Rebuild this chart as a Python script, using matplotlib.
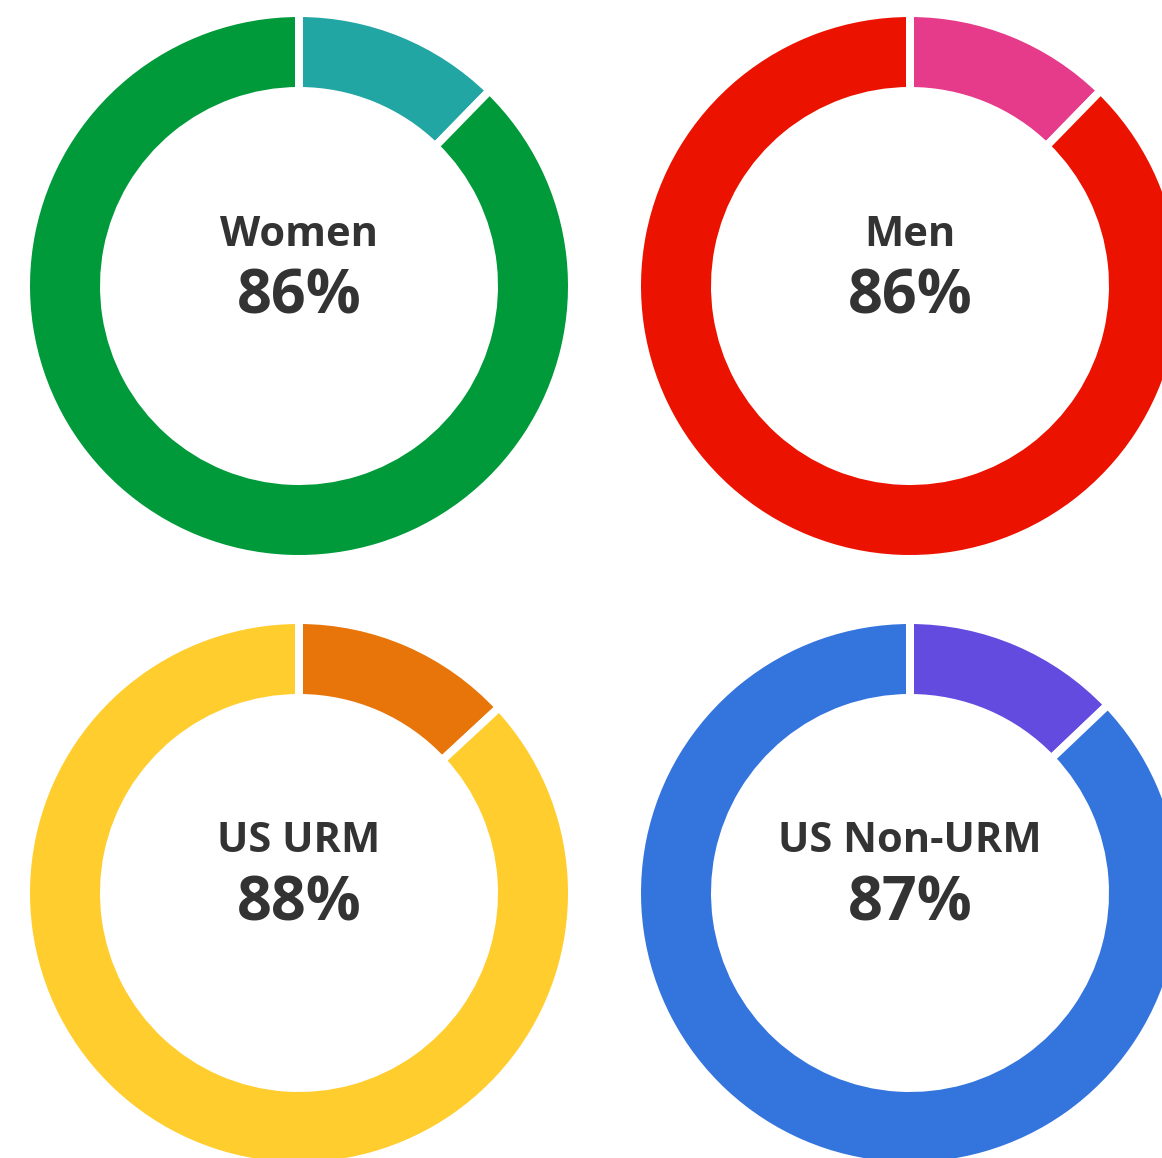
import matplotlib
matplotlib.use("Agg")
import matplotlib.pyplot as plt

# donut data: share shown in the small (top) wedge, rest is the main ring
labels = ["Women", "Men", "US URM", "US Non-URM"]
pct_text = ["86%", "86%", "88%", "87%"]
small_share = [12.3, 12.3, 13.1, 12.9]
main_colors = ["#009A3A", "#EB1300", "#FFCD2E", "#3474DD"]
small_colors = ["#21A6A4", "#E63A8A", "#E8750A", "#644BE0"]

W, H = 1162, 1158
fig = plt.figure(figsize=(W / 100, H / 100), dpi=100)
ax = fig.add_axes([0, 0, 1, 1])

# pixel centres of the 4 donuts (top row first)
centers = [(299, H - 286), (910, H - 286), (299, H - 893), (910, H - 893)]
gap = 8  # white gap in pixels
lw = gap * 72 / 100
font = ["Open Sans", "DejaVu Sans"]

for i, (cx, cy) in enumerate(centers):
    ax.pie([small_share[i], 100 - small_share[i]],
           colors=[small_colors[i], main_colors[i]],
           startangle=90, counterclock=False,
           center=(cx, cy), radius=269 + gap / 2,
           wedgeprops=dict(width=70 + gap, edgecolor="white", linewidth=lw),
           frame=True)
    ax.text(cx, cy + 51, labels[i], ha="center", va="center",
            fontsize=30, fontweight="bold", family=font, color="#333333")
    ax.text(cx, cy - 12, pct_text[i], ha="center", va="center",
            fontsize=44, fontweight="bold", family=font, color="#333333")

ax.set_xlim(0, W)
ax.set_ylim(0, H)
ax.set_aspect("equal")
ax.axis("off")
fig.savefig("out.png", dpi=100)
